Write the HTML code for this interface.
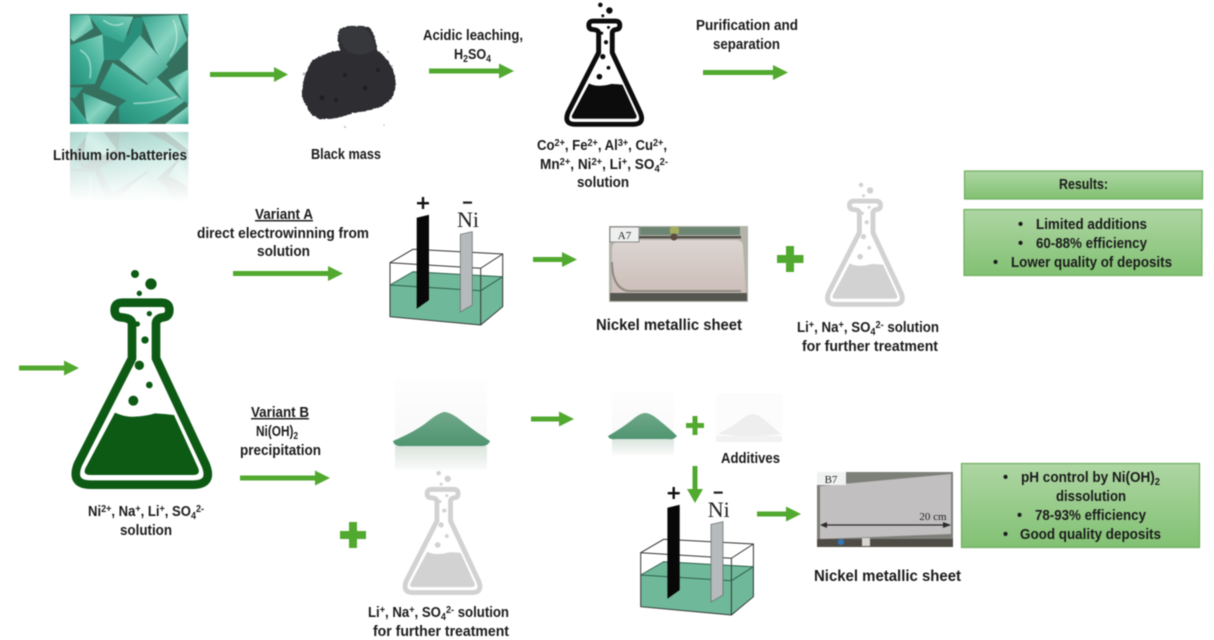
<!DOCTYPE html>
<html lang="en">
<head>
<meta charset="utf-8">
<title>Battery recycling process diagram</title>
<style>
html,body{margin:0;padding:0;background:#fff;width:1214px;height:640px;overflow:hidden}
svg{display:block;filter:blur(.4px)}
text{font-family:"Liberation Sans",sans-serif;font-weight:700;font-size:14.5px;fill:#1b1b1b}
.s{font-size:10px}
.serif{font-family:"Liberation Serif",serif;font-weight:400;fill:#222}
</style>
</head>
<body>
<svg width="1214" height="640" viewBox="0 0 1214 640" xmlns="http://www.w3.org/2000/svg">
<defs>
<linearGradient id="box" x1="0" y1="0" x2="0" y2="1"><stop offset="0" stop-color="#aed6a3"/><stop offset="1" stop-color="#82c173"/></linearGradient>
<linearGradient id="teal" x1="0" y1="0" x2="1" y2="1"><stop offset="0" stop-color="#33a38d"/><stop offset=".5" stop-color="#86d4c0"/><stop offset="1" stop-color="#2f9a85"/></linearGradient>
<linearGradient id="teal2" x1="1" y1="0" x2="0" y2="1"><stop offset="0" stop-color="#7fd2bd"/><stop offset=".55" stop-color="#3cab94"/><stop offset="1" stop-color="#268d79"/></linearGradient>
<linearGradient id="fade" x1="0" y1="0" x2="0" y2="1"><stop offset="0" stop-color="#fff" stop-opacity=".4"/><stop offset="1" stop-color="#fff" stop-opacity="0"/></linearGradient>
<mask id="refl" maskUnits="userSpaceOnUse" x="60" y="130" width="140" height="75"><rect x="60" y="132" width="140" height="70" fill="url(#fade)"/></mask>
<linearGradient id="pg" x1="0" y1="0" x2="0" y2="1"><stop offset="0" stop-color="#f9f9f9" stop-opacity=".2"/><stop offset="1" stop-color="#f8f8f8"/></linearGradient>
<linearGradient id="rg" x1="0" y1="0" x2="0" y2="1"><stop offset="0" stop-color="#dbe5de"/><stop offset="1" stop-color="#fbfbfb"/></linearGradient>
<linearGradient id="pile" x1="0" y1="0" x2="0" y2="1"><stop offset="0" stop-color="#70a98a"/><stop offset="1" stop-color="#4f9470"/></linearGradient>
<linearGradient id="a7" x1="0" y1="0" x2="0" y2="1"><stop offset="0" stop-color="#dcd5d1"/><stop offset="1" stop-color="#ccbdb8"/></linearGradient>
<filter id="grain" x="-5%" y="-5%" width="110%" height="110%"><feTurbulence type="fractalNoise" baseFrequency=".5" numOctaves="2" seed="4" result="n"/><feDisplacementMap in="SourceGraphic" in2="n" scale="2.500" xChannelSelector="R" yChannelSelector="G"/></filter>

<g id="flask">
  <path d="M396 190V295L234 612Q210 674 272 674H578Q642 674 616 612L468 295V190Q470 174 490 172Q508 170 508 150Q508 128 485 128H367Q344 128 344 150Q344 170 362 172Q394 174 396 190Z" fill="none" stroke="currentColor" stroke-width="26" stroke-linejoin="round"/>
  <path d="M345 458Q375 472 405 470Q440 468 465 460Q500 462 522 465L595 625Q602 645 580 645H270Q248 645 256 625Z" fill="currentColor"/>
  <g fill="currentColor">
    <circle cx="405" cy="42" r="12"/><circle cx="453" cy="72" r="17"/><circle cx="418" cy="100" r="8"/>
    <circle cx="448" cy="161" r="8"/><circle cx="412" cy="192" r="8"/><circle cx="435" cy="240" r="11"/>
    <circle cx="418" cy="316" r="14"/><circle cx="448" cy="375" r="10"/><circle cx="400" cy="422" r="15"/>
  </g>
</g>

<g id="cell">
  <polygon points="390,285 413,271.700 502.700,276.700 502.700,306.700 480.700,325 390,316.700" fill="#6fb99a"/>
  <path d="M390,262.700 413,249.300 502.700,254 502.700,306.700 480.700,325 390,316.700Z M390,262.700 480.700,268.300 502.700,254 M480.700,268.300V325" fill="none" stroke="#333" stroke-width="1"/>
  <path d="M390,285 480.700,290.700 502.700,276.700 M390,285 413,271.700 502.700,276.700" fill="none" stroke="#2f5f4c" stroke-width="1"/>
  <polygon points="416.700,217.700 429,214.700 429,300 416.700,308.700" fill="#080808"/>
  <polygon points="460.300,234.300 472.300,231.700 472.300,305 460.300,312" fill="#b5babc" stroke="#666" stroke-width=".7"/>
  <rect x="417" y="202" width="12" height="2.400" fill="#111"/><rect x="421.800" y="197" width="2.400" height="12" fill="#111"/>
  <rect x="463" y="201.500" width="9" height="2.200" fill="#222"/>
  <text class="serif" x="468" y="227" text-anchor="middle" style="font-size:22px">Ni</text>
</g>
</defs>

<rect width="1214" height="640" fill="#fff"/>

<!-- batteries -->
<g id="batt">
  <rect x="70" y="14" width="118" height="110" fill="#35705f"/>
  <g transform="scale(.33333)">
    <polygon points="310,100 420,108 360,180 310,180" fill="#2b8f7b"/>
    <polygon points="212,45 268,45 280,85 220,125 212,115" fill="url(#teal)"/>
    <polygon points="265,45 400,50 370,128 310,105" fill="url(#teal2)"/>
    <polygon points="400,55 430,50 425,105 380,125" fill="#2a8f7a"/>
    <polygon points="425,50 535,45 562,120 495,197 465,150" fill="url(#teal)"/>
    <polygon points="540,45 565,45 565,110" fill="url(#teal2)"/>
    <polygon points="212,135 308,103 312,180 285,252 212,255" fill="url(#teal2)"/>
    <polygon points="420,105 505,200 470,232 445,252 358,180" fill="url(#teal)"/>
    <polygon points="338,188 445,258 385,305 298,265" fill="url(#teal2)"/>
    <polygon points="505,240 565,208 565,312 548,302" fill="url(#teal)"/>
    <polygon points="470,232 552,305 500,342 440,372 358,368 356,320" fill="url(#teal2)"/>
    <polygon points="212,262 250,262 225,295 212,292" fill="#2f9a85"/>
    <polygon points="248,278 350,320 312,372 260,372" fill="url(#teal)"/>
    <polygon points="212,298 268,372 212,372" fill="url(#teal2)"/>
    <polygon points="565,318 565,372 495,372" fill="url(#teal)"/>
    <path d="M520 60Q545 120 510 170M240 150Q280 170 270 235M400 310Q470 310 530 290M310 60Q340 85 370 70" fill="none" stroke="#d5f2ea" stroke-width="5" opacity=".55"/>
  </g>
</g>
<g mask="url(#refl)"><use href="#batt" transform="matrix(1 0 0 -1 0 256)"/></g>
<text x="53" y="160" textLength="134" lengthAdjust="spacingAndGlyphs">Lithium ion-batteries</text>

<!-- black mass -->
<path d="M302 90Q304 72 313 60Q326 52 340 50Q336 38 339 30Q346 25 353 26Q364 25 370 28Q376 36 377 50Q388 58 393 70Q397 82 395 90Q392 102 380 107Q366 112 353 113Q336 120 320 119Q310 116 307 107Q301 98 302 90Z" fill="#2d2f33" filter="url(#grain)"/>
<path d="M339 31Q346 26 362 27Q372 31 376 49Q362 58 348 52Q338 42 339 31Z" fill="#36383c"/>
<g fill="#1f2023"><circle cx="322" cy="98" r="2.500"/><circle cx="345" cy="75" r="2"/><circle cx="365" cy="88" r="2.500"/><circle cx="336" cy="100" r="2"/><circle cx="378" cy="70" r="2"/></g>
<g fill="#8d8d8d" opacity=".6"><circle cx="388" cy="52" r="1"/><circle cx="392" cy="66" r="1"/><circle cx="304" cy="74" r="1.500"/><circle cx="345" cy="127" r="1"/><circle cx="384" cy="125" r=".8"/></g>
<text x="311" y="159" textLength="70" lengthAdjust="spacingAndGlyphs">Black mass</text>

<!-- arrows -->
<g fill="#52a92f">
  <path d="M210 72H274V67L288 74.500 274 82V77H210Z"/>
  <path d="M429 68.500H499V63.500L514 71 499 78.500V73.500H429Z"/>
  <path d="M703 70H773V65L788 72.500 773 80V75H703Z"/>
  <path d="M533 257H562V252L577 259.500 562 267V262H533Z"/>
  <path d="M233 271H328V266L343 273.500 328 281V276H233Z"/>
  <path d="M19 365.500H64V360.500L79 368 64 375.500V370.500H19Z"/>
  <path d="M240 475.500H315V470.500L330 478 315 485.500V480.500H240Z"/>
  <path d="M531 416.500H559V411.500L574 419 559 426.500V421.500H531Z"/>
  <path d="M692.500 466H697.500V489H703L695 503 687 489H692.500Z"/>
  <path d="M757 511.500H786V506.500L801 514 786 521.500V516.500H757Z"/>
  <path d="M786 246H794V255H803.500V263H794V272H786V263H777V255H786Z"/>
  <path d="M349 522H357V531H366V539H357V548H349V539H340V531H349Z"/>
  <path d="M692.500 416H697.500V423H704V428H697.500V435H692.500V428H686V423H692.500Z"/>
</g>

<!-- top labels -->
<text x="423" y="40" textLength="100" lengthAdjust="spacingAndGlyphs">Acidic leaching,</text>
<text x="454" y="59" textLength="37" lengthAdjust="spacingAndGlyphs">H<tspan class="s" dy="3">2</tspan><tspan dy="-3">SO</tspan><tspan class="s" dy="3">4</tspan></text>
<text x="696" y="30" textLength="102" lengthAdjust="spacingAndGlyphs">Purification and</text>
<text x="713" y="49" textLength="67" lengthAdjust="spacingAndGlyphs">separation</text>

<!-- flasks -->
<use href="#flask" color="#0c0c0c" transform="translate(523.800 -3.100) scale(.189)"/>
<use href="#flask" color="#0d5a14" transform="translate(0 260) scale(.33333)"/>
<use href="#flask" color="#d2d2d2" transform="translate(784.500 176.900) scale(.189)"/>
<use href="#flask" color="#d2d2d2" transform="translate(362.100 465.200) scale(.189)"/>

<text x="537" y="150" textLength="130" lengthAdjust="spacingAndGlyphs">Co<tspan class="s" dy="-4">2+</tspan><tspan dy="4">, Fe</tspan><tspan class="s" dy="-4">2+</tspan><tspan dy="4">, Al</tspan><tspan class="s" dy="-4">3+</tspan><tspan dy="4">, Cu</tspan><tspan class="s" dy="-4">2+</tspan><tspan dy="4">,</tspan></text>
<text x="540" y="169" textLength="128" lengthAdjust="spacingAndGlyphs">Mn<tspan class="s" dy="-4">2+</tspan><tspan dy="4">, Ni</tspan><tspan class="s" dy="-4">2+</tspan><tspan dy="4">, Li</tspan><tspan class="s" dy="-4">+</tspan><tspan dy="4">, SO</tspan><tspan class="s" dy="3">4</tspan><tspan class="s" dy="-7">2-</tspan></text>
<text x="577" y="187" textLength="52" lengthAdjust="spacingAndGlyphs">solution</text>

<!-- variant A -->
<text x="255" y="219" textLength="58" lengthAdjust="spacingAndGlyphs" text-decoration="underline">Variant A</text>
<text x="197" y="238" textLength="172" lengthAdjust="spacingAndGlyphs">direct electrowinning from</text>
<text x="257" y="256" textLength="53" lengthAdjust="spacingAndGlyphs">solution</text>

<use href="#cell"/>
<use href="#cell" transform="translate(250.700 290)"/>

<!-- A7 sheet -->
<rect x="609" y="226" width="139" height="76" fill="#b4b3aa"/>
<rect x="640" y="227" width="100" height="8" fill="#6d8573"/>
<rect x="639" y="236" width="102" height="2.500" fill="#55524c"/>
<path d="M612 248Q613 241 622 240H736Q743 240 743 247L746 293 612 294Z" fill="url(#a7)"/>
<path d="M612 262Q612 288 628 291H741" fill="none" stroke="#8d8a82" stroke-width="2"/>
<rect x="610" y="293" width="137" height="8" fill="#55564f"/>
<rect x="670" y="227" width="9" height="7" fill="#a3ad5c" rx="2"/><circle cx="674" cy="237" r="3.500" fill="#5b4b41"/>
<rect x="610" y="227" width="29" height="15" fill="#eef0f0" stroke="#666" stroke-width=".7"/>
<text class="serif" x="624.500" y="239" text-anchor="middle" style="font-size:11px">A7</text>
<text x="596" y="330" textLength="146" lengthAdjust="spacingAndGlyphs" style="font-size:16px">Nickel metallic sheet</text>

<text x="797" y="332" textLength="142" lengthAdjust="spacingAndGlyphs">Li<tspan class="s" dy="-4">+</tspan><tspan dy="4">, Na</tspan><tspan class="s" dy="-4">+</tspan><tspan dy="4">, SO</tspan><tspan class="s" dy="3">4</tspan><tspan class="s" dy="-7">2-</tspan><tspan dy="4"> solution</tspan></text>
<text x="802" y="351" textLength="136" lengthAdjust="spacingAndGlyphs">for further treatment</text>

<!-- results boxes -->
<rect x="964.500" y="171" width="238" height="28" fill="url(#box)" stroke="#6fae60" stroke-width="1.200"/>
<text x="1059" y="189" textLength="49" lengthAdjust="spacingAndGlyphs">Results:</text>
<rect x="964" y="209.500" width="238" height="66" fill="url(#box)" stroke="#6fae60" stroke-width="1.200"/>
<text x="1018" y="229">•</text><text x="1036" y="229" textLength="111" lengthAdjust="spacingAndGlyphs">Limited additions</text>
<text x="1018" y="248">•</text><text x="1036" y="248" textLength="111" lengthAdjust="spacingAndGlyphs">60-88% efficiency</text>
<text x="993" y="267">•</text><text x="1011" y="267" textLength="161" lengthAdjust="spacingAndGlyphs">Lower quality of deposits</text>

<rect x="961.500" y="463.500" width="238" height="84" fill="url(#box)" stroke="#6fae60" stroke-width="1.200"/>
<text x="1003" y="482">•</text><text x="1021" y="482" textLength="139" lengthAdjust="spacingAndGlyphs">pH control by Ni(OH)<tspan class="s" dy="3">2</tspan></text>
<text x="1056" y="501" textLength="70" lengthAdjust="spacingAndGlyphs">dissolution</text>
<text x="1017" y="520">•</text><text x="1035" y="520" textLength="111" lengthAdjust="spacingAndGlyphs">78-93% efficiency</text>
<text x="1003" y="539">•</text><text x="1020" y="539" textLength="141" lengthAdjust="spacingAndGlyphs">Good quality deposits</text>

<!-- bottom left flask label -->
<text x="88" y="516" textLength="116" lengthAdjust="spacingAndGlyphs">Ni<tspan class="s" dy="-4">2+</tspan><tspan dy="4">, Na</tspan><tspan class="s" dy="-4">+</tspan><tspan dy="4">, Li</tspan><tspan class="s" dy="-4">+</tspan><tspan dy="4">, SO</tspan><tspan class="s" dy="3">4</tspan><tspan class="s" dy="-7">2-</tspan></text>
<text x="120" y="535" textLength="52" lengthAdjust="spacingAndGlyphs">solution</text>

<!-- variant B -->
<text x="251" y="417" textLength="58" lengthAdjust="spacingAndGlyphs" text-decoration="underline">Variant B</text>
<text x="256" y="436" textLength="42" lengthAdjust="spacingAndGlyphs">Ni(OH)<tspan class="s" dy="3">2</tspan></text>
<text x="240" y="455" textLength="81" lengthAdjust="spacingAndGlyphs">precipitation</text>

<!-- powders -->
<rect x="395" y="378" width="92" height="68" fill="url(#pg)"/>
<rect x="395" y="446" width="92" height="24" fill="url(#rg)"/>
<path d="M393 441Q414 432 426 423Q438 413 444 412Q451 412 463 422Q476 432 490 441Q488 447 478 446H404Q394 447 393 441Z" fill="url(#pile)"/>

<rect x="612" y="392" width="62" height="47" fill="url(#pg)"/>
<rect x="612" y="439" width="62" height="16" fill="url(#rg)"/>
<path d="M608 436Q622 428 632 420Q640 413 645 413Q651 413 660 421Q670 429 677 436Q674 440 668 439H616Q609 440 608 436Z" fill="url(#pile)"/>

<rect x="716" y="394" width="66" height="42" fill="#fcfcfc"/>
<rect x="716" y="436" width="66" height="6" fill="#f2f2f2"/>
<path d="M718 434Q732 427 742 419Q748 414 752 414Q758 414 766 421Q775 429 781 434Q760 437 740 436Z" fill="#eeeeee"/>
<text x="721" y="463" textLength="59" lengthAdjust="spacingAndGlyphs">Additives</text>

<text x="368" y="617" textLength="141" lengthAdjust="spacingAndGlyphs">Li<tspan class="s" dy="-4">+</tspan><tspan dy="4">, Na</tspan><tspan class="s" dy="-4">+</tspan><tspan dy="4">, SO</tspan><tspan class="s" dy="3">4</tspan><tspan class="s" dy="-7">2-</tspan><tspan dy="4"> solution</tspan></text>
<text x="373" y="636" textLength="136" lengthAdjust="spacingAndGlyphs">for further treatment</text>

<!-- B7 sheet -->
<rect x="817" y="472" width="136" height="75" fill="#7d8079"/>
<polygon points="820,486 951,474 951,534 820,539" fill="#c2bfc0"/>
<rect x="817" y="472" width="29" height="13" fill="#f0f1f1"/>
<text class="serif" x="831" y="483" text-anchor="middle" style="font-size:11px">B7</text>
<rect x="817" y="539" width="136" height="8" fill="#4f4c46"/>
<circle cx="841" cy="542" r="3" fill="#2e79bc"/><rect x="862" y="538" width="8" height="8" fill="#d8d4d0"/>
<path d="M823 525H950" stroke="#2b2b2b" stroke-width="1.200"/>
<path d="M827 522 820 525 827 528ZM943 522 951 525 943 528Z" fill="#2b2b2b"/>
<text class="serif" x="933" y="520" text-anchor="middle" style="font-size:11px">20 cm</text>
<text x="814" y="581" textLength="147" lengthAdjust="spacingAndGlyphs" style="font-size:16px">Nickel metallic sheet</text>
</svg>
</body>
</html>
